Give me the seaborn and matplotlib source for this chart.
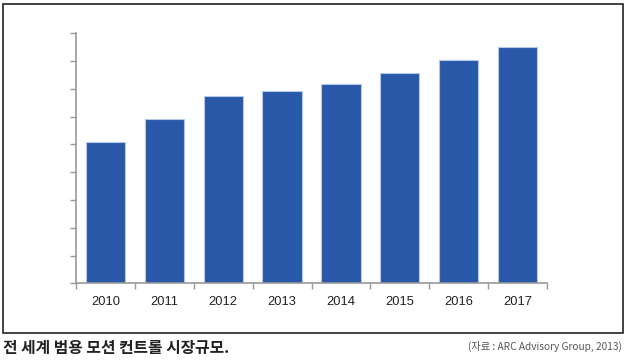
import numpy as np
import pandas as pd
import matplotlib
matplotlib.use("Agg")
import matplotlib.pyplot as plt
import seaborn as sns
from matplotlib.patches import Rectangle

years = ["2010", "2011", "2012", "2013", "2014", "2015", "2016", "2017"]
market_size = [5.1, 5.9, 6.73, 6.91, 7.16, 7.58, 8.03, 8.49]
caption = "전 세계 범용 모션 컨트롤 시장규모."
source = "(자료 : ARC Advisory Group, 2013)"

sns.set_style("white")
plt.rcParams['font.family'] = ['Liberation Sans', 'Noto Sans CJK KR', 'DejaVu Sans']

df = pd.DataFrame({"year": years, "value": market_size})

fig = plt.figure(figsize=(6.27, 3.64), dpi=100)
ax = fig.add_axes([76 / 627, 1 - 283.3 / 364, (547 - 76) / 627, (283.3 - 33.3) / 364])

sns.barplot(
    data=df, x="year", y="value", ax=ax,
    color="#2958a8", saturation=1, width=0.667,
    edgecolor="#b4c8ea", linewidth=0.8,
)

ax.set_xlim(-0.5, len(years) - 0.5)
ax.set_ylim(0, 9)
ax.set_yticks(np.arange(0, 10))
ax.set_yticklabels([])
ax.set_xlabel("")
ax.set_ylabel("")

# tick marks on category boundaries, labels at the centres
ax.set_xticks(np.arange(-0.5, len(years), 1.0))
ax.set_xticklabels([])
ax.set_xticks(np.arange(len(years)), minor=True)
ax.set_xticklabels(years, minor=True, fontsize=9.3, color="#222222")
ax.tick_params(axis="x", which="minor", bottom=True, length=0, pad=9)
ax.tick_params(axis="x", which="major", bottom=True, length=4, width=1,
               color="#999999", direction="out")
ax.tick_params(axis="y", left=True, length=4, width=1, color="#999999", direction="out")

for side in ["top", "right"]:
    ax.spines[side].set_visible(False)
for side in ["left", "bottom"]:
    ax.spines[side].set_color("#999999")
    ax.spines[side].set_linewidth(1.2)

# outer frame
fig.patches.append(Rectangle((3 / 627, 1 - 332.7 / 364), 620 / 627, (332.7 - 4) / 364,
                             transform=fig.transFigure, fill=False,
                             edgecolor="#222222", linewidth=1.2))

fig.text(3 / 627, 1 - 348 / 364, caption, fontsize=11.4, fontweight="bold",
         family=['Noto Sans CJK KR'], color="#222222", va="center", ha="left")
fig.text(622 / 627, 1 - 346 / 364, source, fontsize=7.3, family=['Noto Sans CJK KR'],
         color="#555555", va="center", ha="right")

fig.savefig("out.png", dpi=100)
